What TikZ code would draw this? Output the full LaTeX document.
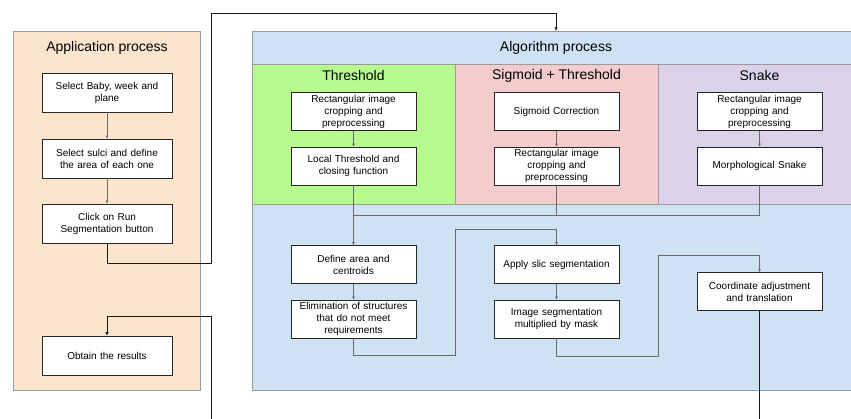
\documentclass[tikz,border=0pt]{standalone}
\usepackage{fontspec}
\setmainfont{Liberation Sans}
\usetikzlibrary{arrows.meta}
\definecolor{peach}{HTML}{FCE5CD}
\definecolor{algblue}{HTML}{CFE2F3}
\definecolor{thgreen}{HTML}{B6FA90}
\definecolor{sgpink}{HTML}{F4CCCC}
\definecolor{snlav}{HTML}{D9D2E9}
\definecolor{panelgray}{HTML}{9A9A9A}
\definecolor{linegray}{HTML}{6A6A6A}
\begin{document}
\begin{tikzpicture}[x=1pt,y=-1pt,
  panel/.style={draw=panelgray, line width=1pt, anchor=north west, inner sep=0pt},
  ptitle/.style={font=\fontsize{14}{16}\selectfont, inner sep=0pt},
  box/.style={draw=black!85, fill=white, line width=0.8pt, minimum width=125pt, minimum height=38pt,
    align=center, text width=121pt, inner sep=1pt, font=\fontsize{10}{12}\selectfont},
  appbox/.style={box, minimum width=130pt, minimum height=39pt, text width=126pt},
  link/.style={draw=linegray, line width=0.8pt, -{Latex[length=3pt,width=3pt]}},
  plain/.style={draw=linegray, line width=0.8pt},
  outer/.style={draw=black!90, line width=0.8pt, -{Latex[length=3.5pt,width=3.5pt]}},
  outerplain/.style={draw=black!90, line width=0.8pt}]
\useasboundingbox (0,0) rectangle (851,419);

% Application panel
\node[panel, fill=peach, minimum width=187pt, minimum height=359pt] (app) at (13,31) {};
\node[ptitle] (apptitle) at (107,48) {Application process};
\node[appbox] (a1) at (107,92.5) {Select Baby, week and\\plane};
\node[appbox] (a2) at (107,158.5) {Select sulci and define\\the area of each one};
\node[appbox] (a3) at (107,223.5) {Click on Run\\Segmentation button};
\node[appbox] (a4) at (107,355.5) {Obtain the results};

% Algorithm panel
\node[panel, fill=algblue, minimum width=612pt, minimum height=359pt] (alg) at (252,31) {};
\node[panel, fill=algblue, minimum width=612pt, minimum height=33pt] (algband) at (252,31) {};
\node[ptitle] (algtitle) at (556,48) {Algorithm process};
\node[panel, fill=thgreen, minimum width=203pt, minimum height=140pt] (thp) at (252,64) {};
\node[panel, fill=sgpink, minimum width=203pt, minimum height=140pt] (sgp) at (455,64) {};
\node[panel, fill=snlav, minimum width=205pt, minimum height=140pt] (snp) at (658,64) {};
\node[ptitle] (tht) at (353.5,76) {Threshold};
\node[ptitle] (sgt) at (556.5,76) {Sigmoid + Threshold};
\node[ptitle] (snt) at (759.5,76) {Snake};

\node[box] (t1) at (353.5,111.5) {Rectangular image\\cropping and\\preprocessing};
\node[box] (t2) at (353.5,166) {Local Threshold and\\closing function};
\node[box] (s1) at (556.5,111.5) {Sigmoid Correction};
\node[box] (s2) at (556.5,166) {Rectangular image\\cropping and\\preprocessing};
\node[box] (k1) at (759.5,111.5) {Rectangular image\\cropping and\\preprocessing};
\node[box] (k2) at (759.5,166) {Morphological Snake};

\node[box] (d1) at (353.5,264.5) {Define area and\\centroids};
\node[box] (d2) at (353.5,319) {Elimination of structures\\that do not meet\\requirements};
\node[box] (sl) at (556.5,264.5) {Apply slic segmentation};
\node[box] (im) at (556.5,319) {Image segmentation\\multiplied by mask};
\node[box] (co) at (759.5,291.5) {Coordinate adjustment\\and translation};

% coordinates for bends
\coordinate (p1) at (211,263);
\coordinate (p3) at (556,13);
\coordinate (algin) at (556,31);
\coordinate (r0) at (211,425);
\coordinate (r1) at (211,316);
\coordinate (m1) at (353.5,215);
\coordinate (q1) at (455,355);
\coordinate (q2) at (455,229);
\coordinate (u1) at (658,356);
\coordinate (u2) at (658,255);
\coordinate (cend) at (759.5,425);

% application connectors
\draw[link] (a1) -- (a2);
\draw[link] (a2) -- (a3);
\draw[outer] (a3.south) |- (p1) |- (p3) -- (algin);
\draw[outer] (r0) -- (r1) -| (a4.north);

% algorithm connectors
\draw[link] (t1) -- (t2);
\draw[link] (s1) -- (s2);
\draw[link] (k1) -- (k2);
\draw[plain] (k2.south) |- (m1);
\draw[plain] (s2.south) -- (s2.south |- m1);
\draw[link] (t2) -- (d1);
\draw[link] (d1) -- (d2);
\draw[link] (d2.south) |- (q1) -- (q2) -| (sl.north);
\draw[link] (sl) -- (im);
\draw[link] (im.south) |- (u1) -- (u2) -| (co.north);
\draw[outerplain] (co.south) -- (cend);
\end{tikzpicture}
\end{document}
